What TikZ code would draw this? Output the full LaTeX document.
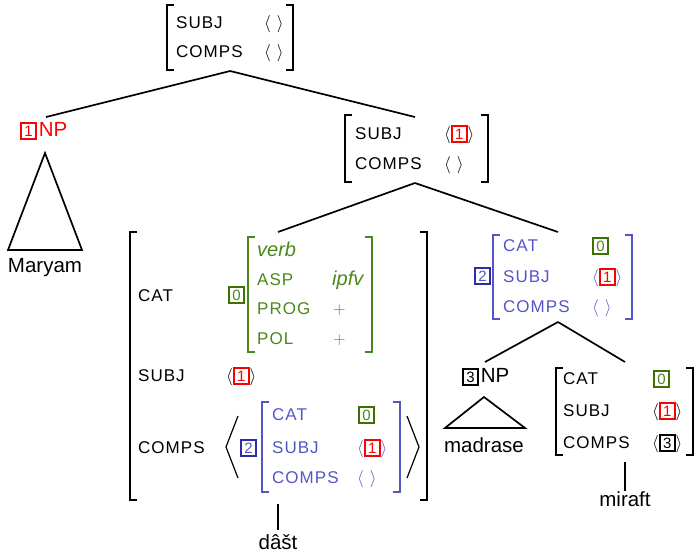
\documentclass[tikz,border=0pt]{standalone}
\usepackage{fontspec}
\setmainfont{Liberation Sans}
\newfontfamily\featfont[LetterSpace=6]{Liberation Sans}
\newfontfamily\itfont{Liberation Sans}
\definecolor{grn}{RGB}{75,135,25}
\definecolor{grnbox}{RGB}{60,115,0}
\definecolor{blu}{RGB}{85,85,200}
\definecolor{blubox}{RGB}{45,45,170}
\newcommand\tagb[3]{\begingroup\setlength\fboxsep{1.6pt}\setlength\fboxrule{2pt}\fcolorbox{#1}{white}{\makebox[9.5pt]{\textcolor{#2}{\fontsize{15}{15}\featfont\selectfont #3}}}\endgroup}
\newcommand\abr[1]{$\langle$#1$\rangle$}
\newcommand\emptyl{$\langle\hspace{6pt}\rangle$}
\newcommand\lbr[4][black]{\draw[brk,#1] ({#2+7},#3) -- (#2,#3) -- (#2,#4) -- ({#2+7},#4);}
\newcommand\rbr[4][black]{\draw[brk,#1] ({#2-7},#3) -- (#2,#3) -- (#2,#4) -- ({#2-7},#4);}
\tikzset{
  feat/.style={font=\featfont\fontsize{17}{17}\selectfont, anchor=west, inner sep=0pt, text height=12pt, text depth=0pt},
  itval/.style={feat, font=\itfont\itshape\fontsize{20}{20}\selectfont},
  big/.style={font=\fontsize{20.5}{20.5}\selectfont, inner sep=0pt},
  brk/.style={line width=1.3pt},
  tree/.style={line width=1.7pt},
}
\begin{document}
\begin{tikzpicture}[x=1pt,y=-1pt]
\useasboundingbox (0,0) rectangle (697,552);

% top AVM
\lbr{167}{5}{70}
\rbr{293}{5}{70}
\node[feat] (tsubj) at (176,22) {SUBJ};
\node[feat] (tcomps) at (176,51) {COMPS};
\node[feat] (tsubjv) at (264,22) {\emptyl};
\node[feat] (tcompsv) at (264,51) {\emptyl};
\coordinate (topb) at (230,71);

% NP 1
\node[big, text=red, anchor=base west] (np1) at (20,136) {\tagb{red}{red}{1}\hspace{2pt}NP};
\coordinate (np1t) at (46,117);
\coordinate (tri1a) at (45,153);
\coordinate (tri1l) at (8,250);
\coordinate (tri1r) at (82,250);
\draw[tree, line join=miter] (tri1a) -- (tri1l) -- (tri1r) -- cycle;
\node[big] (maryam) at (45,268) {Maryam};

% middle AVM
\lbr{345}{115}{182}
\rbr{488}{115}{182}
\node[feat] (msubj) at (355,133) {SUBJ};
\node[feat] (mcomps) at (355,163) {COMPS};
\node[feat] (msubjv) at (444,133) {\abr{\tagb{red}{red}{1}}};
\node[feat] (mcompsv) at (444,163) {\emptyl};
\coordinate (midt) at (415,117);
\coordinate (midb) at (415,183);

\draw[tree] (topb) -- (np1t);
\draw[tree] (topb) -- (midt);

% big AVM (dast)
\coordinate (dastt) at (278,232);
\lbr{130}{232}{500}
\rbr{427}{232}{500}
\node[feat] (dcat) at (138,295) {CAT};
\node[feat] (dcatt) at (228,294) {\tagb{grnbox}{grn}{0}};
\lbr[grn]{248}{237}{352}
\rbr[grn]{372}{237}{352}
\node[itval, text=grn] (dverb) at (257,250) {verb};
\node[feat, text=grn] (dasp) at (257,279) {ASP};
\node[feat, text=grn] (dprog) at (257,308) {PROG};
\node[feat, text=grn] (dpol) at (257,338) {POL};
\node[itval, text=grn] (dipfv) at (332,279) {ipfv};
\node[feat, text=grn] (dprogv) at (333,308) {\fontsize{19}{19}\selectfont$+$};
\node[feat, text=grn] (dpolv) at (333,338) {\fontsize{19}{19}\selectfont$+$};
\node[feat] (dsubj) at (138,375) {SUBJ};
\node[feat] (dsubjv) at (226,375) {\abr{\tagb{red}{red}{1}}};
\node[feat] (dcomps) at (138,447) {COMPS};
\coordinate (dla) at (238,416);
\coordinate (dlb) at (226,447);
\coordinate (dlc) at (238,478);
\draw[line width=1.2pt] (dla) -- (dlb) -- (dlc);
\node[feat] (dcompst) at (240,447) {\tagb{blubox}{blu}{2}};
\lbr[blu]{262}{402}{492}
\rbr[blu]{400}{402}{492}
\node[feat, text=blu] (icat) at (272,414) {CAT};
\node[feat, text=blu] (isubj) at (272,447) {SUBJ};
\node[feat, text=blu] (icomps) at (272,477) {COMPS};
\node[feat] (icatv) at (358,414) {\tagb{grnbox}{grn}{0}};
\node[feat, text=blu] (isubjv) at (357,447) {\abr{\tagb{red}{red}{1}}};
\node[feat, text=blu] (icompsv) at (357,477) {\emptyl};
\coordinate (dra) at (407,416);
\coordinate (drb) at (419,447);
\coordinate (drc) at (407,478);
\draw[line width=1.2pt] (dra) -- (drb) -- (drc);
\coordinate (dastb) at (278,504);
\coordinate (dastl) at (278,530);
\node[big, anchor=base] (dast) at (278,549) {dâšt};
\draw[tree] (dastb) -- (dastl);

% right AVM
\coordinate (rtt) at (558,232);
\node[feat] (rtag) at (474,275) {\tagb{blubox}{blu}{2}};
\lbr[blu]{493}{235}{319}
\rbr[blu]{632}{235}{319}
\node[feat, text=blu] (rcat) at (503,245) {CAT};
\node[feat, text=blu] (rsubj) at (503,276) {SUBJ};
\node[feat, text=blu] (rcomps) at (503,306) {COMPS};
\node[feat] (rcatv) at (592,245) {\tagb{grnbox}{grn}{0}};
\node[feat, text=blu] (rsubjv) at (592,276) {\abr{\tagb{red}{red}{1}}};
\node[feat, text=blu] (rcompsv) at (592,306) {\emptyl};
\coordinate (rtb) at (558,322);

\draw[tree] (midb) -- (dastt);
\draw[tree] (midb) -- (rtt);

% NP 3
\node[big, anchor=base west] (np3) at (462,382) {\tagb{black}{black}{3}\hspace{2pt}NP};
\coordinate (np3t) at (485,362);
\coordinate (tri3a) at (484,397);
\coordinate (tri3l) at (445,428);
\coordinate (tri3r) at (525,428);
\draw[tree, line join=miter] (tri3a) -- (tri3l) -- (tri3r) -- cycle;
\node[big] (madrase) at (484,445) {madrase};

% miraft AVM
\coordinate (mirt) at (625,362);
\lbr{556}{368}{455}
\rbr{693}{368}{455}
\node[feat] (mcat) at (563,378) {CAT};
\node[feat] (msubj2) at (563,410) {SUBJ};
\node[feat] (mcomps2) at (563,442) {COMPS};
\node[feat] (mcatv) at (653,378) {\tagb{grnbox}{grn}{0}};
\node[feat] (msubjv2) at (652,410) {\abr{\tagb{red}{red}{1}}};
\node[feat] (mcompsv2) at (652,442) {\abr{\tagb{black}{black}{3}}};
\coordinate (mirb) at (625,462);
\node[big] (miraft) at (625,499) {miraft};
\draw[tree] (mirb) -- (miraft.north);

\draw[tree] (rtb) -- (np3t);
\draw[tree] (rtb) -- (mirt);
\end{tikzpicture}
\end{document}
